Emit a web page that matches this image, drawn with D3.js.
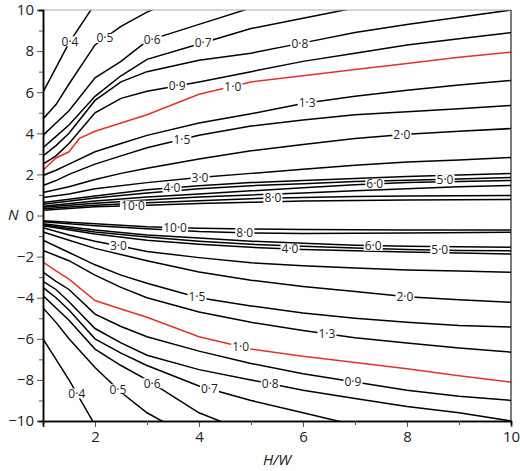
<!DOCTYPE html>
<html><head><meta charset="utf-8">
<script src="https://cdn.jsdelivr.net/npm/d3@7"></script>
<style>body{margin:0;background:#fff}text{font-family:"Open Sans",sans-serif}</style>
</head><body><svg id="c" width="520" height="471"></svg>
<script>
const xTicks=[2,4,6,8,10];
const yTicks=[-10,-8,-6,-4,-2,0,2,4,6,8,10];
const top04=[[1,6.0],[1.25,7.2],[1.5,8.4],[2,10.3],[2.5,11.5]];
const top05=[[1,4.7],[1.25,5.4],[1.5,6.4],[2,8.3],[2.5,9.2],[3,9.9],[4,11]];
const top06=[[1,3.9],[1.25,4.5],[1.5,5.1],[2,6.7],[2.5,7.5],[3,8.5],[4,9.3],[5,10.1],[6,10.8]];
const top07=[[1,3.3],[1.25,3.85],[1.5,4.4],[2,5.8],[2.5,6.8],[3,7.6],[4,8.35],[5,9.1],[6,9.6],[7,10.1],[8,10.5]];
const top08=[[1,2.9],[1.25,3.4],[1.5,4.0],[2,5.6],[2.5,6.5],[3,7.0],[4,7.55],[5,7.9],[6,8.4],[7,8.9],[8,9.3],[9,9.65],[10,10.0]];
const top09=[[1,2.5],[1.25,2.9],[1.5,3.5],[2,5.0],[2.5,5.7],[3,6.05],[4,6.5],[5,7.0],[6,7.5],[7,7.9],[8,8.3],[9,8.6],[10,8.9]];
const top10=[[1,2.2],[1.25,2.8],[1.5,3.1],[1.7,3.75],[2,4.1],[2.5,4.5],[3,4.9],[4,5.9],[5,6.5],[6,6.8],[7,7.1],[8,7.4],[9,7.7],[10,7.95]];
const top13=[[1,1.95],[1.25,2.2],[1.5,2.5],[2,3.1],[2.5,3.5],[3,3.9],[4,4.5],[5,4.95],[6,5.45],[7,5.8],[8,6.1],[9,6.35],[10,6.57]];
const top15=[[1,1.46],[1.25,1.7],[1.5,2.0],[2,2.5],[2.5,2.9],[3,3.3],[4,3.9],[5,4.35],[6,4.65],[7,4.9],[8,5.05],[9,5.2],[10,5.35]];
const top20=[[1,1.12],[1.5,1.4],[2,1.75],[2.5,2.05],[3,2.3],[4,2.75],[5,3.15],[6,3.45],[7,3.75],[8,3.95],[9,4.1],[10,4.23]];
const top30=[[1,0.88],[1.5,1.05],[2,1.3],[3,1.6],[4,1.85],[5,2.05],[6,2.25],[7,2.45],[8,2.6],[9,2.7],[10,2.82]];
const top40=[[1,0.63],[2,0.95],[3,1.25],[4,1.45],[5,1.6],[6,1.7],[8,1.9],[10,2.04]];
const top50=[[1,0.55],[2,0.85],[3,1.1],[4,1.3],[5,1.45],[6,1.55],[7,1.65],[8,1.72],[9,1.78],[10,1.85]];
const top60=[[1,0.45],[2,0.7],[3,0.9],[4,1.05],[5,1.2],[6,1.35],[7,1.5],[8,1.6],[9,1.65],[10,1.70]];
const top70=[[1,0.4],[2,0.6],[3,0.75],[4,0.9],[5,1.0],[6,1.1],[7,1.2],[8,1.3],[9,1.4],[10,1.46]];
const top80=[[1,0.33],[2,0.5],[3,0.62],[4,0.72],[5,0.82],[6,0.88],[7,0.92],[8,0.95],[10,0.97]];
const top100=[[1,0.25],[2,0.42],[3,0.5],[4,0.58],[5,0.64],[6,0.7],[8,0.75],[10,0.78]];
const bot04=[[1,-6.0],[1.25,-7.0],[1.5,-8.0],[2,-10.2],[2.5,-11.5]];
const bot05=[[1,-4.5],[1.25,-5.2],[1.5,-6.0],[2,-7.4],[2.5,-8.6],[3,-9.6],[3.5,-10.3]];
const bot06=[[1,-3.9],[1.25,-4.5],[1.5,-5.1],[2,-6.5],[2.5,-7.3],[3,-8.0],[4,-9.6],[4.5,-10.1]];
const bot07=[[1,-3.5],[1.25,-4.0],[1.5,-4.6],[2,-6.0],[2.5,-6.7],[3,-7.3],[4,-8.3],[5,-9.0],[6,-9.6],[7,-10.2]];
const bot08=[[1,-3.2],[1.25,-3.6],[1.5,-4.2],[2,-5.5],[2.5,-6.2],[3,-6.8],[4,-7.5],[5,-8.0],[6,-8.5],[7,-8.9],[8,-9.3],[9,-9.6],[10,-10.0]];
const bot09=[[1,-2.75],[1.25,-3.2],[1.5,-3.6],[2,-4.8],[2.5,-5.4],[3,-5.9],[4,-6.6],[5,-7.2],[6,-7.7],[7,-8.1],[8,-8.5],[9,-8.8],[10,-9.0]];
const bot10=[[1,-2.27],[1.25,-2.7],[1.5,-3.1],[2,-4.14],[2.5,-4.55],[3,-4.95],[4,-5.9],[5,-6.5],[6,-6.85],[7,-7.15],[8,-7.46],[9,-7.8],[10,-8.11]];
const bot13=[[1,-1.7],[1.5,-2.2],[2,-2.9],[2.5,-3.5],[3,-4.0],[4,-4.7],[5,-5.2],[6,-5.6],[7,-5.95],[8,-6.2],[9,-6.45],[10,-6.65]];
const bot15=[[1,-1.2],[1.5,-1.8],[2,-2.4],[2.5,-2.9],[3,-3.3],[4,-4.0],[5,-4.4],[6,-4.75],[7,-5.0],[8,-5.2],[9,-5.35],[10,-5.43]];
const bot20=[[1,-0.8],[1.5,-1.2],[2,-1.6],[3,-2.2],[4,-2.75],[5,-3.15],[6,-3.45],[7,-3.7],[8,-3.95],[9,-4.1],[10,-4.22]];
const bot30=[[1,-0.6],[1.5,-0.95],[2,-1.25],[2.5,-1.5],[3,-1.75],[4,-2.05],[5,-2.3],[6,-2.45],[7,-2.55],[8,-2.65],[9,-2.7],[10,-2.76]];
const bot40=[[1,-0.5],[2,-0.9],[3,-1.2],[4,-1.4],[5,-1.55],[6,-1.65],[7,-1.72],[8,-1.78],[9,-1.83],[10,-1.87]];
const bot50=[[1,-0.45],[2,-0.8],[3,-1.05],[4,-1.25],[5,-1.4],[6,-1.5],[7,-1.58],[8,-1.65],[9,-1.7],[10,-1.72]];
const bot60=[[1,-0.4],[2,-0.7],[3,-0.95],[4,-1.1],[5,-1.25],[6,-1.35],[7,-1.45],[8,-1.5],[9,-1.52],[10,-1.54]];
const bot80=[[1,-0.3],[2,-0.5],[3,-0.65],[4,-0.78],[5,-0.85],[6,-0.88],[8,-0.85],[10,-0.81]];
const bot100=[[1,-0.25],[2,-0.4],[3,-0.55],[4,-0.62],[5,-0.66],[6,-0.68],[8,-0.7],[10,-0.7]];
const contours=[
 ["0·4",top04,1.52],["0·5",top05,2.19],["0·6",top06,3.1],["0·7",top07,4.08],["0·8",top08,5.94],["0·9",top09,3.58],
 ["1·0",top10,4.65],["1·3",top13,6.08],["1·5",top15,3.67],["2·0",top20,7.9],["3·0",top30,4.02],["4·0",top40,3.48],
 ["5·0",top50,8.73],["6·0",top60,7.38],["",top70,null],["8·0",top80,5.42],["10·0",top100,2.73],
 ["0·4",bot04,1.65],["0·5",bot05,2.44],["0·6",bot06,3.1],["0·7",bot07,4.2],["0·8",bot08,5.37],["0·9",bot09,6.96],
 ["1·0",bot10,4.8],["1·3",bot13,6.46],["1·5",bot15,3.96],["2·0",bot20,7.96],["3·0",bot30,2.45],["4·0",bot40,5.75],
 ["5·0",bot50,8.63],["6·0",bot60,7.35],["8·0",bot80,4.88],["10·0",bot100,3.54]
];
const L=43,R=511,T=10,B=421;
const svg=d3.select("#c");
const x=d3.scaleLinear().domain([1,10]).range([L,R]);
const y=d3.scaleLinear().domain([-10,10]).range([B,T]);
svg.append("clipPath").attr("id","cp").append("rect").attr("x",L).attr("y",T).attr("width",R-L).attr("height",B-T);
const g=svg.append("g").attr("clip-path","url(#cp)");
const line=d3.line().x(d=>x(d[0])).y(d=>y(d[1]));
contours.forEach(([lab,pts])=>{
 g.append("path").attr("d",line(pts)).attr("fill","none")
  .attr("stroke",lab==="1·0"?"#e8302a":"#000").attr("stroke-width",1.5);
});
function interp(pts,xv){for(let i=0;i<pts.length-1;i++){const a=pts[i],b=pts[i+1];if(xv>=a[0]&&xv<=b[0]){const t=(xv-a[0])/(b[0]-a[0]);return a[1]+t*(b[1]-a[1]);}}return pts[pts.length-1][1];}
contours.forEach(([lab,pts,lx])=>{
 if(!lab)return;
 const nv=interp(pts,lx);const px=x(lx),py=y(nv);
 const lg=svg.append("g").attr("transform",`translate(${px},${py})`);
 const t=lg.append("text").attr("text-anchor","middle").attr("dy","0.36em").attr("font-size",12).attr("fill","#222").text(lab);
 const bb=t.node().getBBox();
 lg.insert("rect","text").attr("x",bb.x-1).attr("y",-5).attr("width",bb.width+2).attr("height",10).attr("fill","#fff");
});
svg.append("line").attr("x1",L).attr("x2",R).attr("y1",T).attr("y2",T).attr("stroke","#aaa");
svg.append("line").attr("x1",R).attr("x2",R).attr("y1",T).attr("y2",B).attr("stroke","#222").attr("stroke-width",1.2);
svg.append("g").attr("transform",`translate(0,${B})`).call(d3.axisBottom(x).tickValues(xTicks).tickSize(6).tickPadding(4).tickFormat(d3.format("d")));
svg.append("g").attr("transform",`translate(${L},0)`).call(d3.axisLeft(y).tickValues(yTicks).tickSize(6).tickPadding(3).tickFormat(d=>d<0?"\u2212"+(-d):d));
svg.append("g").attr("transform",`translate(0,${B})`).call(d3.axisBottom(x).tickValues([3,5,7,9]).tickSize(4).tickFormat(""));
svg.append("g").attr("transform",`translate(${L},0)`).call(d3.axisLeft(y).tickValues([-9,-7,-5,-3,-1,1,3,5,7,9]).tickSize(4).tickFormat(""));
svg.selectAll(".domain").attr("stroke","#000").attr("stroke-width",1.5);
svg.selectAll(".tick text").attr("font-size",15).attr("fill","#222").attr("font-family","Open Sans");
svg.selectAll(".tick line").attr("stroke","#555");
svg.append("text").attr("x",8).attr("y",220).attr("font-size",15).attr("font-style","italic").attr("fill","#222").text("N");
svg.append("text").attr("x",277).attr("y",465).attr("text-anchor","middle").attr("font-size",15).attr("font-style","italic").attr("fill","#222").text("H/W");
</script></body></html>
